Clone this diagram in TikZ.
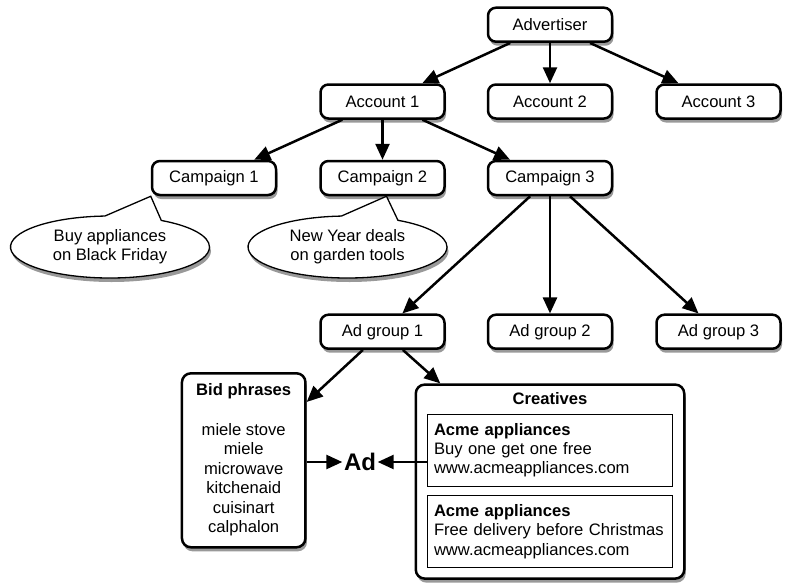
\documentclass[tikz,border=0pt]{standalone}
\usepackage{fontspec}
\setmainfont{Liberation Sans}
\usetikzlibrary{arrows.meta,shapes.callouts,shadows,calc}
\begin{document}
\begin{tikzpicture}[x=1pt,y=-1pt,
  txt/.style={font=\fontsize{16.6}{19.4}\selectfont},
  shad/.style={drop shadow={shadow xshift=1.5pt,shadow yshift=-4pt,fill=black,opacity=0.4}},
  box/.style={txt,draw,line width=2.5pt,rounded corners=8pt,fill=white,shad,minimum width=124pt,minimum height=34pt,inner sep=0pt},
  bigbox/.style={draw,line width=2.5pt,rounded corners=9pt,fill=white,shad,inner sep=0pt},
  inbox/.style={txt,draw,line width=1.1pt,fill=white,inner xsep=6.5pt,inner ysep=0pt,align=left,text width=232pt,minimum height=72pt},
  bubble/.style={txt,ellipse callout,draw,line width=1.3pt,fill=white,shad,minimum width=199pt,minimum height=62pt,inner sep=0pt,align=center,callout pointer arc=34},
  arr/.style={line width=2.5pt,-{Triangle[length=16pt,width=14pt]}},
]
\useasboundingbox (0,0) rectangle (787,582);

% tree nodes
\node[box] (adv)  at (550,24.7) {Advertiser};
\node[box] (acc1) at (382.5,101.5) {Account 1};
\node[box] (acc2) at (550,101.5) {Account 2};
\node[box] (acc3) at (718.5,101.5) {Account 3};
\node[box] (cam1) at (214,178) {Campaign 1};
\node[box] (cam2) at (382.5,178) {Campaign 2};
\node[box] (cam3) at (550,178) {Campaign 3};
\node[box] (ag1)  at (382.5,331.7) {Ad group 1};
\node[box] (ag2)  at (550,331.7) {Ad group 2};
\node[box] (ag3)  at (718.5,331.7) {Ad group 3};

% callouts
\coordinate (t1) at (cam1.south west);
\coordinate (t2) at ($(cam2.south)+(4,0)$);
\node[bubble,callout absolute pointer=(t1)] (b1) at (110,247) {Buy appliances\\on Black Friday};
\node[bubble,callout absolute pointer=(t2)] (b2) at (347.5,247) {New Year deals\\on garden tools};

% bid phrases
\node[bigbox,minimum width=123.5pt,minimum height=174pt] (bid) at (243.7,460.3) {};
\node[txt,font=\fontsize{16.6}{19.4}\selectfont\bfseries] (bidt) at (243.7,391.6) {Bid phrases};
\node[txt,align=center,inner sep=0pt] (bidl) at (243.7,479.7) {miele stove\\miele\\microwave\\kitchenaid\\cuisinart\\calphalon};

% creatives
\node[bigbox,minimum width=268.5pt,minimum height=194pt] (cre) at (550,481.6) {};
\node[txt,font=\fontsize{16.6}{19.4}\selectfont\bfseries] (cret) at (550,399) {Creatives};
\node[inbox] (cr1) at (550,450.1) {\textbf{Acme appliances}\\Buy one get one free\\www.acmeappliances.com};
\node[inbox] (cr2) at (550,531.4) {\textbf{Acme appliances}\\Free delivery before Christmas\\www.acmeappliances.com};

% ad
\node[font=\fontsize{24}{28}\selectfont\bfseries,inner sep=1.5pt] (ad) at (360,462) {Ad};

% connectors
\draw[arr] (adv) -- (acc1);
\draw[arr] (adv) -- (acc2);
\draw[arr] (adv) -- (acc3);
\draw[arr] (acc1) -- (cam1);
\draw[arr] (acc1) -- (cam2);
\draw[arr] (acc1) -- (cam3);
\draw[arr] (cam3) -- (ag1);
\draw[arr] (cam3) -- (ag2);
\draw[arr] (cam3) -- (ag3);
\draw[arr] (ag1) -- (bid);
\draw[arr] (ag1) -- (cre);
\draw[arr] (bid.east |- ad) -- (ad);
\draw[arr] (cr1.west |- ad) -- (ad);
\end{tikzpicture}
\end{document}
